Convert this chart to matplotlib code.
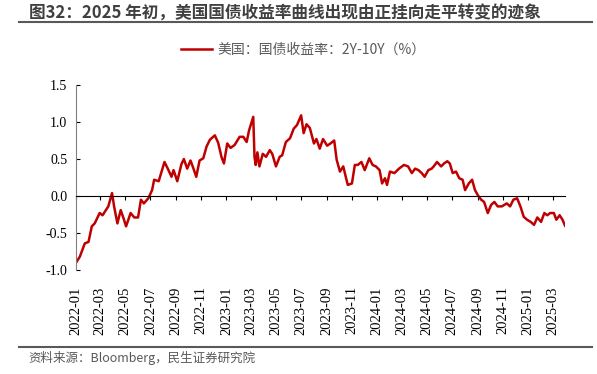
import matplotlib
matplotlib.use("Agg")
from matplotlib import pyplot as plt
from matplotlib.lines import Line2D
import matplotlib.dates as mdates
import pandas as pd

plt.rcParams['font.family'] = ['Noto Sans CJK SC', 'DejaVu Sans']

# 2Y-10Y spread (%)
dates = [
    '2022-01-03', '2022-01-11', '2022-01-23', '2022-02-01', '2022-02-09', '2022-02-16',
    '2022-02-28', '2022-03-07', '2022-03-15', '2022-03-21', '2022-03-30', '2022-04-04',
    '2022-04-12', '2022-04-20', '2022-04-28', '2022-05-03', '2022-05-14', '2022-05-23',
    '2022-06-01', '2022-06-08', '2022-06-15', '2022-06-26', '2022-07-05', '2022-07-10',
    '2022-07-21', '2022-08-04', '2022-08-12', '2022-08-21', '2022-08-26', '2022-09-04',
    '2022-09-14', '2022-09-20', '2022-09-28', '2022-10-06', '2022-10-12', '2022-10-20',
    '2022-10-28', '2022-11-06', '2022-11-14', '2022-11-22', '2022-12-04', '2022-12-12',
    '2022-12-20', '2022-12-26', '2023-01-03', '2023-01-11', '2023-01-21', '2023-02-02',
    '2023-02-11', '2023-02-19', '2023-02-25', '2023-03-07', '2023-03-10', '2023-03-13',
    '2023-03-17', '2023-03-22', '2023-03-30', '2023-04-07', '2023-04-16', '2023-04-22',
    '2023-05-01', '2023-05-10', '2023-05-16', '2023-05-25', '2023-06-04', '2023-06-13',
    '2023-06-21', '2023-07-01', '2023-07-07', '2023-07-14', '2023-07-22', '2023-08-01',
    '2023-08-07', '2023-08-15', '2023-08-23', '2023-09-02', '2023-09-10', '2023-09-19',
    '2023-09-25', '2023-10-03', '2023-10-11', '2023-10-17', '2023-10-22', '2023-11-01',
    '2023-11-08', '2023-11-15', '2023-11-24', '2023-12-02', '2023-12-13', '2023-12-21',
    '2023-12-29', '2024-01-07', '2024-01-13', '2024-01-20', '2024-01-25', '2024-02-01',
    '2024-02-12', '2024-02-23', '2024-03-06', '2024-03-16', '2024-03-25', '2024-04-02',
    '2024-04-10', '2024-04-18', '2024-04-25', '2024-05-04', '2024-05-12', '2024-05-17',
    '2024-05-25', '2024-06-04', '2024-06-11', '2024-06-19', '2024-06-25', '2024-07-02',
    '2024-07-10', '2024-07-18', '2024-07-26', '2024-08-01', '2024-08-10', '2024-08-18',
    '2024-08-25', '2024-09-01', '2024-09-09', '2024-09-16', '2024-09-25', '2024-10-03',
    '2024-10-11', '2024-10-19', '2024-10-29', '2024-11-10', '2024-11-18', '2024-11-26',
    '2024-12-05', '2024-12-13', '2024-12-21', '2024-12-29', '2025-01-07', '2025-01-15',
    '2025-01-23', '2025-02-01', '2025-02-09', '2025-02-16', '2025-02-23', '2025-03-04',
    '2025-03-10', '2025-03-18', '2025-03-25', '2025-03-31',
]
spread = [
    -0.89, -0.82, -0.64, -0.62, -0.41, -0.37,
    -0.23, -0.26, -0.19, -0.14, 0.04, -0.14,
    -0.37, -0.19, -0.32, -0.41, -0.23, -0.29,
    -0.29, -0.05, -0.10, -0.03, 0.08, 0.22,
    0.20, 0.46, 0.37, 0.26, 0.35, 0.20,
    0.43, 0.50, 0.37, 0.48, 0.39, 0.26,
    0.48, 0.51, 0.67, 0.76, 0.82, 0.72,
    0.53, 0.44, 0.71, 0.65, 0.69, 0.80,
    0.80, 0.73, 0.89, 1.07, 0.53, 0.42,
    0.59, 0.40, 0.57, 0.53, 0.62, 0.57,
    0.40, 0.53, 0.55, 0.73, 0.78, 0.91,
    0.96, 1.09, 0.85, 0.97, 0.92, 0.71,
    0.77, 0.64, 0.77, 0.68, 0.71, 0.75,
    0.49, 0.33, 0.40, 0.26, 0.15, 0.17,
    0.42, 0.42, 0.46, 0.35, 0.51, 0.42,
    0.40, 0.35, 0.17, 0.24, 0.15, 0.33,
    0.31, 0.37, 0.42, 0.40, 0.31, 0.37,
    0.35, 0.31, 0.26, 0.35, 0.37, 0.40,
    0.46, 0.40, 0.44, 0.47, 0.44, 0.31,
    0.33, 0.24, 0.22, 0.08, 0.17, 0.22,
    0.08, 0.01, -0.05, -0.08, -0.23, -0.12,
    -0.08, -0.14, -0.14, -0.10, -0.14, -0.05,
    -0.03, -0.14, -0.28, -0.32, -0.35, -0.39,
    -0.29, -0.35, -0.23, -0.26, -0.23, -0.23,
    -0.32, -0.26, -0.32, -0.40,
]
yticks = [-1.0, -0.5, 0.0, 0.5, 1.0, 1.5]

title = '图32：2025 年初，美国国债收益率曲线出现由正挂向走平转变的迹象'
series_name = '美国：国债收益率：2Y-10Y（%）'
source = '资料来源：Bloomberg，民生证券研究院'

x = pd.to_datetime(dates)

fig = plt.figure(figsize=(5.97, 3.74), dpi=100)
ax = fig.add_axes([0.1268, 0.278, 0.8196, 0.4947])

ax.plot(x, spread, color='#C00000', lw=1.8, label=series_name)

ax.set_ylim(-1.0, 1.5)
ax.set_yticks(yticks)
ax.yaxis.set_major_formatter(matplotlib.ticker.FormatStrFormatter('%.1f'))
ax.set_xlim(pd.Timestamp('2022-01-01'), x[-1])
ax.xaxis.set_major_locator(mdates.MonthLocator(bymonth=[1, 3, 5, 7, 9, 11]))
ax.xaxis.set_major_formatter(mdates.DateFormatter('%Y-%m'))

ax.spines['top'].set_visible(False)
ax.spines['right'].set_visible(False)
ax.spines['left'].set_color('#808080')
ax.spines['bottom'].set_position(('data', 0))
ax.spines['bottom'].set_color('black')
ax.tick_params(axis='y', direction='in', length=3, color='black', pad=6,
               labelsize=10, labelfontfamily='Liberation Serif')
ax.tick_params(axis='x', direction='out', length=3, color='black', pad=62,
               labelsize=10.5, labelfontfamily='Liberation Serif', labelrotation=90)

# title and rules
fig.text(0.048, 0.966, title, fontsize=12, fontweight='bold', color='#404040',
         ha='left', va='center')
fig.add_artist(Line2D([0.032, 0.992], [0.941, 0.941], transform=fig.transFigure,
                      color='#595959', lw=1.5))
fig.add_artist(Line2D([0.032, 0.992], [0.073, 0.073], transform=fig.transFigure,
                      color='#595959', lw=1.5))
fig.text(0.047, 0.043, source, fontsize=9, color='#595959', ha='left', va='center')

fig.legend(loc='center', bbox_to_anchor=(0.508, 0.866), frameon=False,
           fontsize=10, labelcolor='#595959', handlelength=2.2, handletextpad=0.4)

fig.savefig('out.png', dpi=100)
